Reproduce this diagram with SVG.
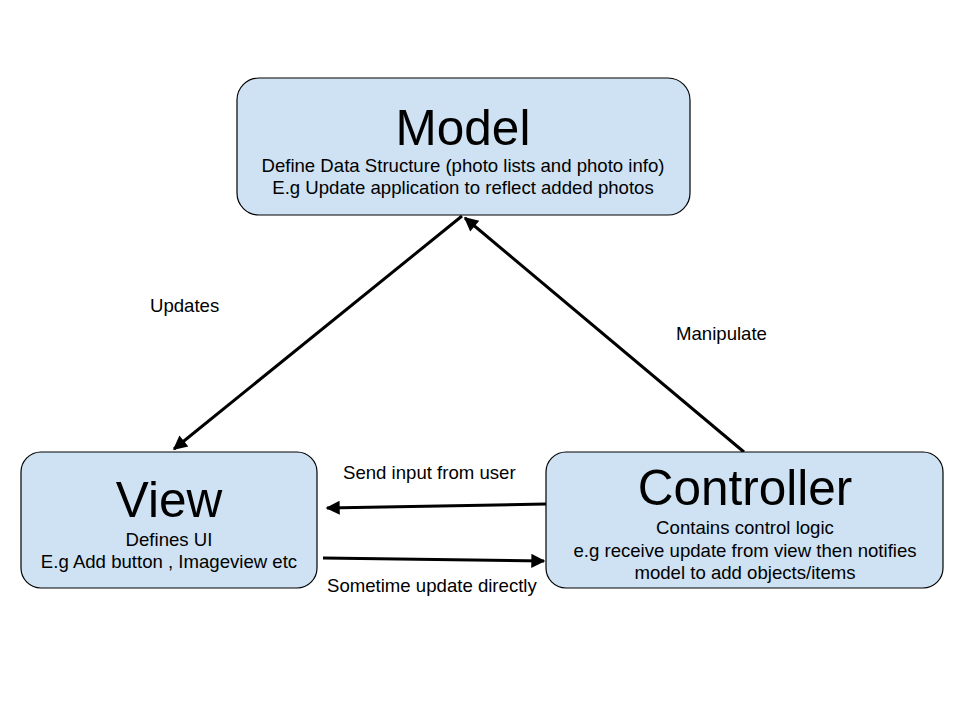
<svg xmlns="http://www.w3.org/2000/svg" width="960" height="720" viewBox="0 0 960 720">
<style>
.box{fill:#cfe2f3;stroke:#000;stroke-width:1.2}
text{font-family:"Liberation Sans",Arial,sans-serif;fill:#000;text-anchor:middle}
.title{font-size:49.5px}
.body{font-size:18.6px}
.lbl{font-size:18.6px;text-anchor:start}
.conn{stroke:#000;stroke-width:3;fill:none;marker-end:url(#ah)}
</style>
<defs>
<marker id="ah" viewBox="0 0 10 10" refX="9" refY="5" markerWidth="5.3" markerHeight="4.7" orient="auto" markerUnits="strokeWidth">
<path d="M0,0 L10,5 L0,10 Z" fill="#000"/>
</marker>
</defs>
<rect width="960" height="720" fill="#fff"/>
<g id="connectors">
<line class="conn" x1="462" y1="216" x2="174" y2="449"/>
<line class="conn" x1="744" y1="452" x2="465" y2="218"/>
<line class="conn" x1="546" y1="504" x2="327" y2="508"/>
<line class="conn" x1="323" y1="558" x2="544" y2="561"/>
<text class="lbl" x="150" y="312">Updates</text>
<text class="lbl" x="676" y="340">Manipulate</text>
<text class="lbl" x="343" y="479">Send input from user</text>
<text class="lbl" x="327" y="592">Sometime update directly</text>
</g>
<g id="model">
<rect class="box" x="237" y="78" width="453" height="137" rx="22"/>
<text class="title" x="463" y="145">Model</text>
<text class="body" x="463" y="172">Define Data Structure (photo lists and photo info)</text>
<text class="body" x="463" y="194">E.g Update application to reflect added photos</text>
</g>
<g id="view">
<rect class="box" x="21" y="452" width="296" height="136" rx="20"/>
<text class="title" x="169" y="517">View</text>
<text class="body" x="169" y="546">Defines UI</text>
<text class="body" x="169" y="568">E.g Add button , Imageview etc</text>
</g>
<g id="controller">
<rect class="box" x="546" y="452" width="397" height="136" rx="20"/>
<text class="title" x="745" y="505">Controller</text>
<text class="body" x="745" y="534">Contains control logic</text>
<text class="body" x="745" y="557">e.g receive update from view then notifies</text>
<text class="body" x="745" y="579">model to add objects/items</text>
</g>
</svg>
